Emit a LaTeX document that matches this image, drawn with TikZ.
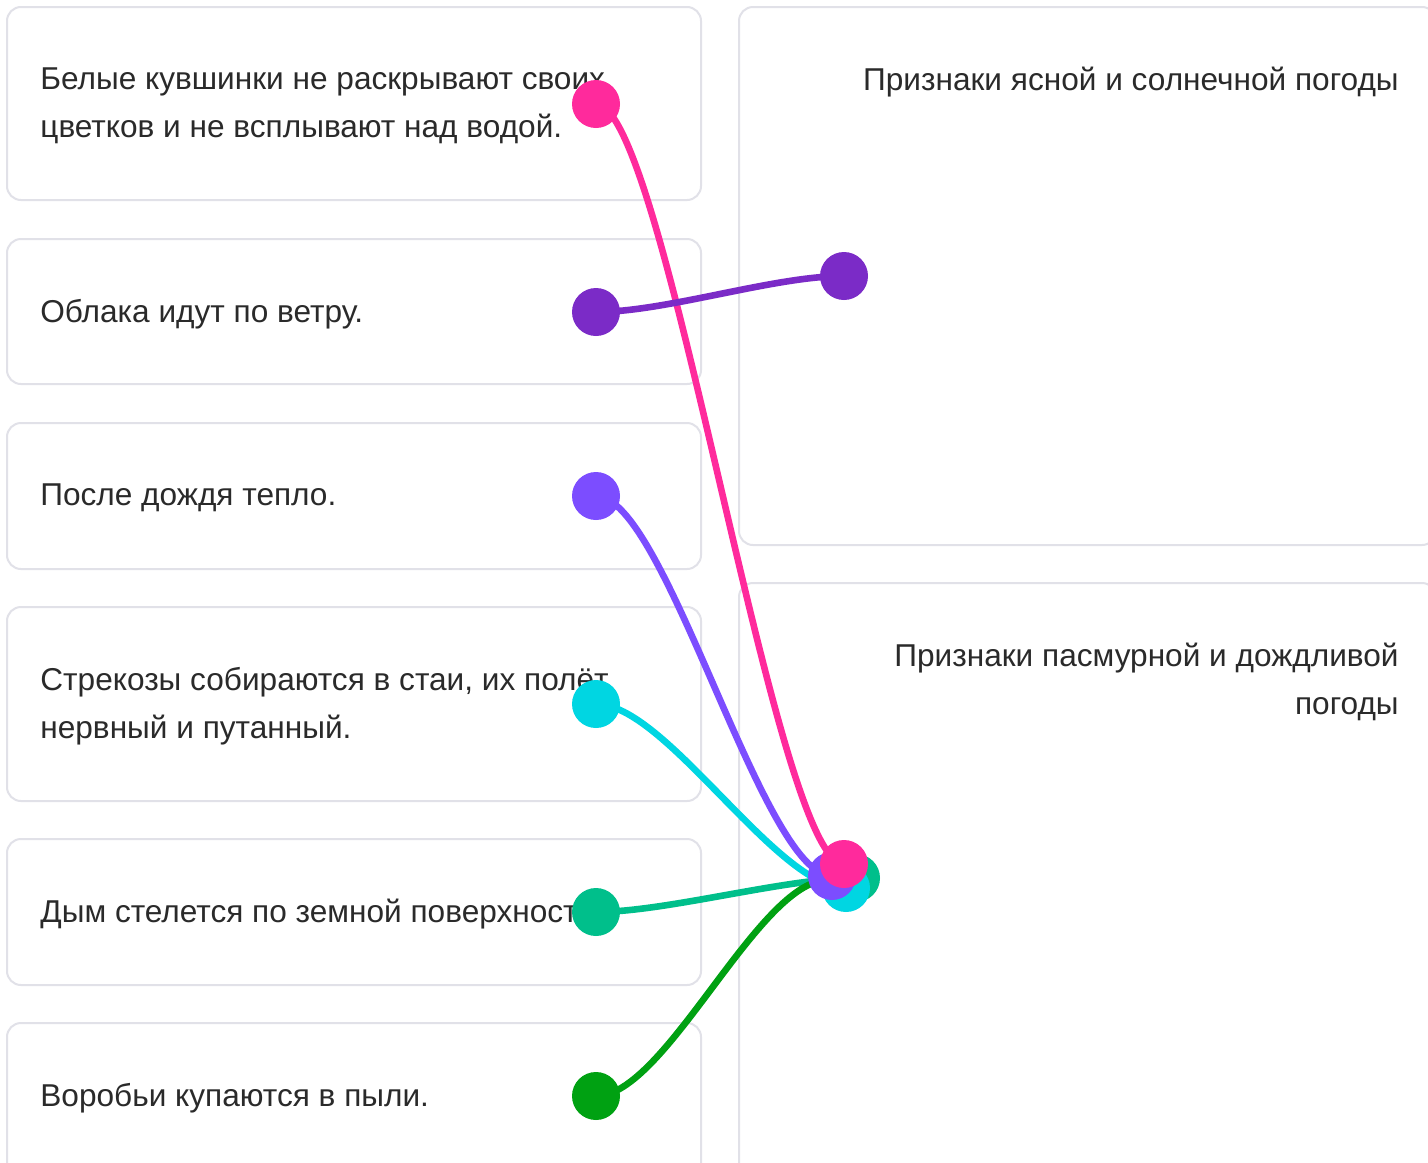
\documentclass[tikz,border=0pt]{standalone}
\usepackage{fontspec}
\setmainfont{Liberation Sans}
\definecolor{cpink}{HTML}{FF2A9C}
\definecolor{cpurple}{HTML}{7B2BC7}
\definecolor{cviolet}{HTML}{7C4DFF}
\definecolor{ccyan}{HTML}{00D6E2}
\definecolor{cteal}{HTML}{00BF8B}
\definecolor{cgreen}{HTML}{00A112}
\definecolor{cardgray}{HTML}{E1E1E8}
\definecolor{ink}{HTML}{2A2A2A}
\pgfdeclarelayer{bg}
\pgfdeclarelayer{lines}
\pgfsetlayers{bg,lines,main}
\begin{document}
\begin{tikzpicture}[x=0.5pt,y=-0.5pt,
  card/.style={draw=cardgray, line width=1pt, rounded corners=7pt, fill=white},
  lbl/.style={font=\fontsize{15.8}{24}\selectfont, text=ink, inner sep=0pt},
  dot/.style={circle, fill=#1, minimum size=24pt, inner sep=0pt},
  link/.style={draw=#1, line width=3.3pt, line cap=round},
]
\useasboundingbox (0,0) rectangle (1428,1162);
\clip (0,0) rectangle (1428,1162);
\begin{pgfonlayer}{bg}
\fill[white] (0,0) rectangle (1428,1162);
\draw[card] (7,7) rectangle (701,200);
\draw[card] (7,239) rectangle (701,384);
\draw[card] (7,423) rectangle (701,569);
\draw[card] (7,607) rectangle (701,801);
\draw[card] (7,839) rectangle (701,985);
\draw[card] (7,1023) rectangle (701,1200);
\draw[card] (739,7) rectangle (1436,545);
\draw[card] (739,583) rectangle (1436,1200);
\end{pgfonlayer}

% texts
\node[lbl, anchor=west, align=left] (t1) at (40,106) {Белые кувшинки не раскрывают своих\\цветков и не всплывают над водой.};
\node[lbl, anchor=west] (t2) at (40,314) {Облака идут по ветру.};
\node[lbl, anchor=west] (t3) at (40,498) {После дождя тепло.};
\node[lbl, anchor=west, align=left] (t4) at (40,706) {Стрекозы собираются в стаи, их полёт\\нервный и путанный.};
\node[lbl, anchor=west] (t5) at (40,914) {Дым стелется по земной поверхности.};
\node[lbl, anchor=west] (t6) at (40,1098) {Воробьи купаются в пыли.};
\node[lbl, anchor=east] (h1) at (1399,82) {Признаки ясной и солнечной погоды};
\node[lbl, anchor=east, align=right] (h2) at (1399,682) {Признаки пасмурной и дождливой\\погоды};

% dots
\node[dot=cpink] (l1) at (596,104) {};
\node[dot=cpurple] (l2) at (596,312) {};
\node[dot=cviolet] (l3) at (596,496) {};
\node[dot=ccyan] (l4) at (596,704) {};
\node[dot=cteal] (l5) at (596,912) {};
\node[dot=cgreen] (l6) at (596,1096) {};
\node[dot=cpurple] (r2) at (844,276) {};
\coordinate (r6) at (828,880);
\node[dot=cteal] (r5) at (856,878) {};
\node[dot=ccyan] (r4) at (846,888) {};
\node[dot=cviolet] (r3) at (832,876) {};
\node[dot=cpink] (r1) at (844,864) {};

\begin{pgfonlayer}{lines}
\draw[link=cpink] (l1.center) .. controls +(70,0) and +(-70,0) .. (r1.center);
\draw[link=cpurple] (l2.center) .. controls +(70,0) and +(-70,0) .. (r2.center);
\draw[link=cviolet] (l3.center) .. controls +(70,0) and +(-70,0) .. (r3.center);
\draw[link=ccyan] (l4.center) .. controls +(70,0) and +(-70,0) .. (r4.center);
\draw[link=cteal] (l5.center) .. controls +(70,0) and +(-70,0) .. (r5.center);
\draw[link=cgreen] (l6.center) .. controls +(70,0) and +(-70,0) .. (r6);
\end{pgfonlayer}
\end{tikzpicture}
\end{document}
